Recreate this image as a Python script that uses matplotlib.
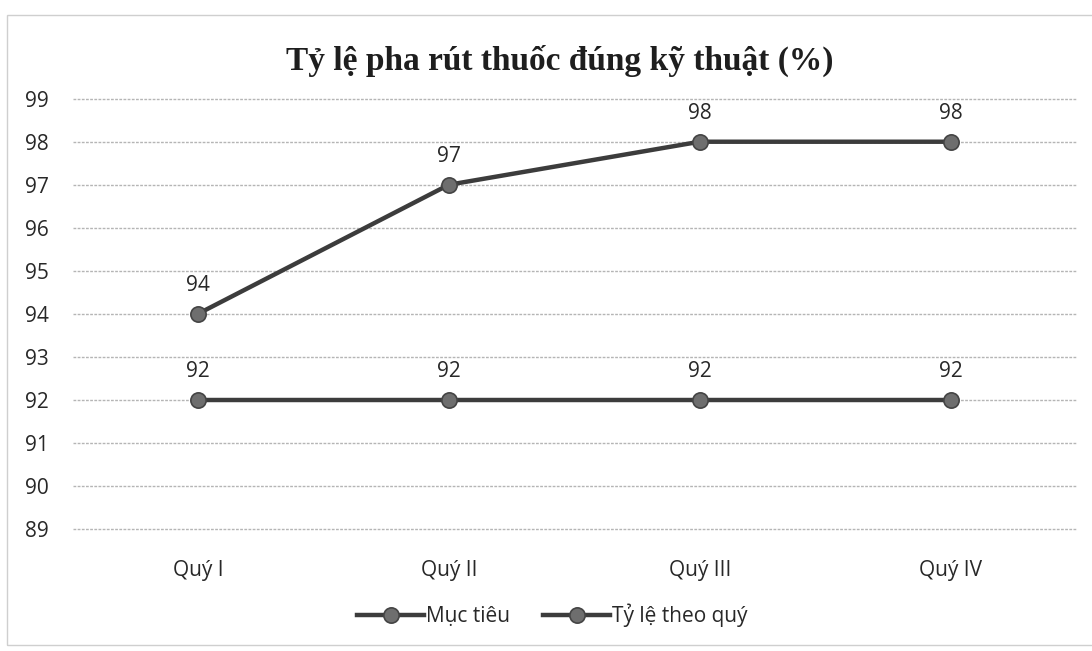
import matplotlib.pyplot as plt
from matplotlib.patches import Rectangle

quarters = ["Quý I", "Quý II", "Quý III", "Quý IV"]
target = [92, 92, 92, 92]
actual = [94, 97, 98, 98]

plt.rcParams["font.family"] = ["Open Sans", "DejaVu Sans"]

fig = plt.figure(figsize=(10.92, 6.51), dpi=100)

# faint chart-area border (scan of an Excel chart)
fig.patches.append(Rectangle((0.0065, 0.009), 1.2, 0.968, transform=fig.transFigure,
                             fill=False, ec="#cfcfcf", lw=1.0))

ax = fig.add_axes([0.0664, 0.1874, 0.919, 0.661])

x = list(range(len(quarters)))
line_col = "#3c3c3c"
mark_col = "#6e6e6e"
txt_col = "#282828"

for vals, name in [(target, "Mục tiêu"), (actual, "Tỷ lệ theo quý")]:
    ax.plot(x, vals, color=line_col, lw=3.2, marker="o", ms=11,
            mfc=mark_col, mec="#444444", mew=1.2, label=name, zorder=3)
    for xi, v in zip(x, vals):
        ax.annotate(f"{v}", (xi, v), xytext=(0, 13), textcoords="offset points",
                    ha="center", va="bottom", fontsize=15, color=txt_col)

ax.set_xlim(-0.5, len(quarters) - 0.5)
ax.set_ylim(89, 99)
ax.set_yticks(range(89, 100))
ax.set_xticks(x)
ax.set_xticklabels(quarters)
ax.tick_params(length=0, labelsize=15, colors=txt_col)
ax.tick_params(axis="y", pad=17)
ax.tick_params(axis="x", pad=22)
ax.grid(axis="y", color="#b5b5b5", lw=1.0, ls=(0, (2, 1)))
for gl in ax.get_ygridlines():
    gl.set_clip_on(False)
ax.set_axisbelow(True)
for s in ax.spines.values():
    s.set_visible(False)

fig.text(0.513, 0.907, "Tỷ lệ pha rút thuốc đúng kỹ thuật (%)", ha="center", va="center",
         fontsize=24, fontweight="bold", family="Liberation Serif", color="#1e1e1e")

fig.legend(loc="center", bbox_to_anchor=(0.506, 0.055), ncol=2, frameon=False,
           fontsize=15, handlelength=3.2, handletextpad=0.1, columnspacing=1.6,
           labelcolor=txt_col)

fig.savefig("out.png", dpi=100)
